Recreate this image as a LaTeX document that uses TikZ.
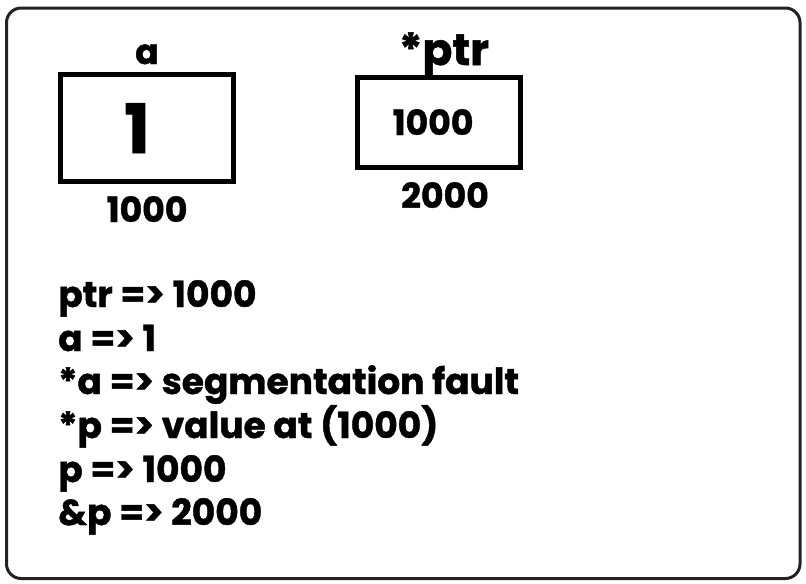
\documentclass[tikz,border=0pt]{standalone}
\usepackage{fontspec}
\setmainfont{Poppins}[BoldFeatures={FakeBold=1.2}]
\tikzset{
  cell/.style={draw, line width=3.4pt},
  lbl/.style={anchor=base, inner sep=0.75pt, font=\bfseries\fontsize{26}{31}\selectfont},
  rule/.style={anchor=base west, inner sep=0.75pt, font=\bfseries\fontsize{27}{33}\selectfont}
}
\begin{document}
\begin{tikzpicture}[x=0.75pt,y=0.75pt,yscale=-1,xscale=1]
        \useasboundingbox (0,0) rectangle (806,583);

        %Shape: Frame
        \draw [color={rgb, 255:red, 34; green, 34; blue, 34}, line width=2.25pt, rounded corners=11pt] (6.5,8) rectangle (800,578.5);

        %Shape: Box a
        \draw [cell] (60.5,74.5) rectangle (233.5,181.5);
        \coordinate (boxa) at (147,128);
        %Shape: Box ptr
        \draw [cell] (357.5,77.5) rectangle (520.5,167.5);
        \coordinate (boxptr) at (439,122.5);

        % Text Node
        \node (namea) [lbl] at (147,64) {a};
        % Text Node
        \node (vala) [lbl, font=\bfseries\fontsize{51}{60}\selectfont] at (137,153) {1};
        % Text Node
        \node (addra) [lbl] at (147,222) {1000};
        % Text Node
        \node (nameptr) [lbl, font=\bfseries\fontsize{33}{40}\selectfont] at (444,65) {*ptr};
        % Text Node
        \node (valptr) [lbl] at (433,135) {1000};
        % Text Node
        \node (addrptr) [lbl] at (445,208) {2000};

        % Text Node
        \node (l1) [rule] at (57,307) {ptr => 1000};
        % Text Node
        \node (l2) [rule] at (57,351) {a => 1};
        % Text Node
        \node (l3) [rule] at (57,394) {*a => segmentation fault};
        % Text Node
        \node (l4) [rule] at (57,438) {*p => value at (1000)};
        % Text Node
        \node (l5) [rule] at (57,482) {p => 1000};
        % Text Node
        \node (l6) [rule] at (57,525) {\&p => 2000};

\end{tikzpicture}
\end{document}
